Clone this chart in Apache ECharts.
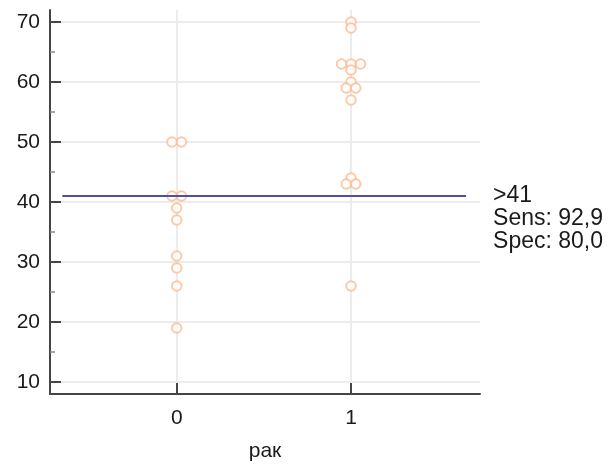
<!DOCTYPE html>
<html>
<head>
<meta charset="utf-8">
<script src="https://cdn.jsdelivr.net/npm/echarts@6/dist/echarts.min.js"></script>
<style>
  html, body { margin: 0; padding: 0; background: #ffffff; }
  #chart { width: 609px; height: 464px; }
</style>
</head>
<body>
<div id="chart"></div>
<script>
// Groups of the binary variable "рак" and the measured values in each group
const categories = ['0', '1'];
const group0Values = [50, 50, 41, 41, 39, 37, 31, 29, 26, 19];
const group1Values = [70, 69, 63, 63, 63, 62, 60, 59, 59, 57, 44, 43, 43, 26];

// Axis ticks
const yTicks = [10, 20, 30, 40, 50, 60, 70];
const xTicks = [0, 1];

// Criterion value and its diagnostic performance
const cutoff = 41;
const sensitivity = '92,9';
const specificity = '80,0';

// Horizontal extent of the criterion line, in x-axis units
const cutoffLineFrom = -0.656;
const cutoffLineTo = 1.66;

const DOT_SPACING = 9.5; // px between tied dots

// Tied values within a group are spread sideways, centred on the group
function dotsFor(groupIndex, values) {
  const counts = {};
  values.forEach(v => { counts[v] = (counts[v] || 0) + 1; });
  const seen = {};
  return values.map(v => {
    const i = seen[v] || 0;
    seen[v] = i + 1;
    const shift = (i - (counts[v] - 1) / 2) * DOT_SPACING;
    return { value: [groupIndex, v], symbolOffset: [shift, 0] };
  });
}

const minorTicks = yTicks.slice(0, -1).map((t, i) => (t + yTicks[i + 1]) / 2);

const AXIS_COLOR = '#454545';
const GRID_COLOR = '#ececec';
const TEXT_COLOR = '#1a1a1a';
const FONT = 'Liberation Sans, Arial, sans-serif';

const chart = echarts.init(document.getElementById('chart'), null, { renderer: 'canvas' });

chart.setOption({
  animation: false,
  backgroundColor: '#ffffff',
  grid: { left: 50, right: 129, top: 10, bottom: 70, containLabel: false, outerBoundsMode: 'none' },
  xAxis: {
    type: 'value',
    min: -0.727,
    max: 1.74,
    name: 'рак',
    nameLocation: 'middle',
    nameGap: 47,
    nameTextStyle: { fontFamily: FONT, fontSize: 21, color: TEXT_COLOR },
    axisLine: { show: true, onZero: false, lineStyle: { color: AXIS_COLOR, width: 2 } },
    axisTick: { show: true, inside: true, length: 11, customValues: xTicks, lineStyle: { color: AXIS_COLOR, width: 2 } },
    axisLabel: {
      customValues: xTicks,
      margin: 14,
      fontFamily: FONT, fontSize: 21, color: TEXT_COLOR,
      formatter: v => categories[Math.round(v)]
    },
    splitLine: { show: true, lineStyle: { color: GRID_COLOR, width: 2 } }
  },
  yAxis: [
    {
      type: 'value',
      min: 8,
      max: 72,
      axisLine: { show: true, onZero: false, lineStyle: { color: AXIS_COLOR, width: 2 } },
      axisTick: { show: true, inside: true, length: 11, customValues: yTicks, lineStyle: { color: AXIS_COLOR, width: 2 } },
      axisLabel: { customValues: yTicks, margin: 10, fontFamily: FONT, fontSize: 21, color: TEXT_COLOR },
      splitLine: { show: true, lineStyle: { color: GRID_COLOR, width: 2 } }
    },
    {
      // minor ticks between the labelled values
      type: 'value',
      position: 'left',
      min: 8,
      max: 72,
      axisLine: { show: false, onZero: false },
      axisTick: { show: true, inside: true, length: 5, customValues: minorTicks, lineStyle: { color: '#8a8a8a', width: 1.5 } },
      axisLabel: { show: false },
      splitLine: { show: false }
    }
  ],
  series: [
    {
      name: '0',
      type: 'scatter',
      symbol: 'emptyCircle',
      symbolSize: 9.5,
      itemStyle: { color: '#fbbb92', borderWidth: 1.5 },
      data: dotsFor(0, group0Values),
      z: 3
    },
    {
      name: '1',
      type: 'scatter',
      symbol: 'emptyCircle',
      symbolSize: 9.5,
      itemStyle: { color: '#fbbb92', borderWidth: 1.5 },
      data: dotsFor(1, group1Values),
      z: 3,
      markLine: {
        silent: true,
        symbol: ['none', 'none'],
        lineStyle: { color: '#4f4fa8', width: 2, type: 'solid' },
        label: {
          show: true,
          position: 'end',
          distance: 27,
          verticalAlign: 'top',
          offset: [0, -12],
          lineHeight: 23,
          fontFamily: FONT,
          fontSize: 23,
          color: TEXT_COLOR,
          formatter: () => '>' + cutoff + '\nSens: ' + sensitivity + '\nSpec: ' + specificity
        },
        data: [[
          { coord: [cutoffLineFrom, cutoff] },
          { coord: [cutoffLineTo, cutoff] }
        ]]
      }
    }
  ]
});
</script>
</body>
</html>
